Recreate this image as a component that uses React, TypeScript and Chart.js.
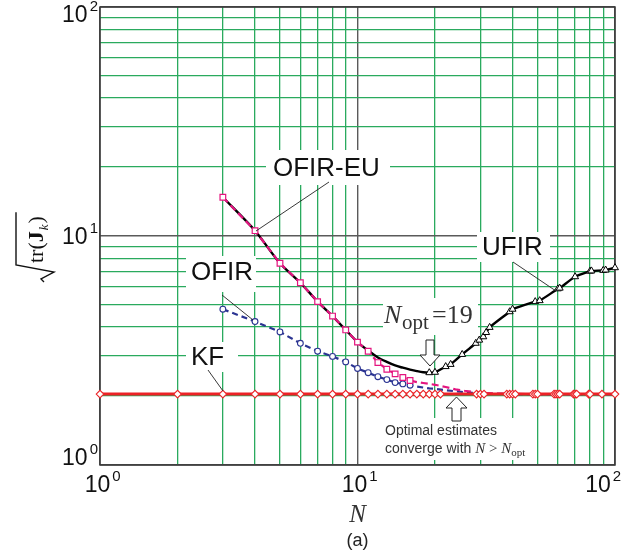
import React, { useEffect, useRef } from "react";
import { Chart, registerables } from "chart.js";

Chart.register(...registerables);

// ---- grid / tick values ----
const gridValues = [1, 2, 3, 4, 5, 6, 7, 8, 9, 10, 20, 30, 40, 50, 60, 70, 80, 90, 100];
const majorValues = [1, 10, 100];
const tickExponents = ["0", "1", "2"];

// ---- KF ----
const kfN = [1, 2, 3, 4, 5, 6, 7, 8, 9, 10, 11, 12, 13, 14, 15, 16, 17, 18, 19, 20, 21, 29, 30, 31, 38, 39, 40, 41, 48, 49, 50, 58, 59, 60, 61, 69, 70, 71, 79, 80, 89, 100];
const kfValues = [2.04, 2.04, 2.04, 2.04, 2.04, 2.04, 2.04, 2.04, 2.04, 2.04, 2.04, 2.04, 2.04, 2.04, 2.04, 2.04, 2.04, 2.04, 2.04, 2.04, 2.04, 2.04, 2.04, 2.04, 2.04, 2.04, 2.04, 2.04, 2.04, 2.04, 2.04, 2.04, 2.04, 2.04, 2.04, 2.04, 2.04, 2.04, 2.04, 2.04, 2.04, 2.04];

// ---- OFIR-EU ----
const ofirEuN = [3, 4, 5, 6, 7, 8, 9, 10, 11, 12, 13, 14, 15, 16, 17, 18, 19, 20, 22, 24, 26, 29, 31, 35, 40, 50, 60, 70, 80, 100];
const ofirEuValues = [14.76, 10.55, 7.6, 6.25, 5.17, 4.47, 3.89, 3.44, 3.14, 2.8, 2.62, 2.5, 2.41, 2.34, 2.3, 2.28, 2.26, 2.24, 2.19, 2.14, 2.11, 2.08, 2.06, 2.05, 2.045, 2.04, 2.04, 2.04, 2.04, 2.04];

// ---- OFIR ----
const ofirN = [3, 4, 5, 6, 7, 8, 9, 10, 11, 12, 13, 14, 15, 16, 17, 18, 19, 20, 22, 24, 26, 29, 31, 35, 40, 50, 60, 70, 80, 100];
const ofirValues = [4.79, 4.23, 3.81, 3.4, 3.14, 2.98, 2.82, 2.64, 2.53, 2.43, 2.36, 2.29, 2.26, 2.23, 2.2, 2.18, 2.16, 2.15, 2.12, 2.1, 2.08, 2.06, 2.05, 2.045, 2.04, 2.04, 2.04, 2.04, 2.04, 2.04];

// ---- UFIR ----
const ufirN = [3, 4, 5, 6, 7, 8, 9, 10, 11, 12, 13, 14, 15, 16, 17, 18, 19, 20, 22, 23, 25.5, 28.8, 29.7, 30.8, 31.6, 32.6, 39, 40, 49, 51, 60, 61, 70, 80, 81, 90, 92, 100];
const ufirValues = [14.76, 10.55, 7.6, 6.25, 5.17, 4.47, 3.89, 3.44, 3.16, 2.95, 2.82, 2.72, 2.66, 2.61, 2.57, 2.54, 2.53, 2.54, 2.69, 2.75, 3.04, 3.4, 3.51, 3.63, 3.79, 3.99, 4.67, 4.79, 5.17, 5.22, 5.88, 5.92, 6.64, 7.02, 7.04, 7.08, 7.1, 7.27];

const RED = "#ec2226";
const MAGENTA = "#e4147f";
const BLUE = "#2b3492";
const GREEN = "#2aaa5e";
const MAJOR = "#5a5a5a";

const SANS = "'Liberation Sans', Arial, sans-serif";
const SERIF = "'Liberation Serif', 'Times New Roman', serif";

const toPoints = (xs: number[], ys: number[]) => xs.map((x, i) => ({ x, y: ys[i] }));

const decorPlugin = {
  id: "decor",
  beforeDatasetsDraw(chart: any) {
    const ctx = chart.ctx as CanvasRenderingContext2D;
    const ca = chart.chartArea;
    ctx.save();
    // white boxes behind labels
    ctx.fillStyle = "#ffffff";
    const boxes = [
      [266, 150, 124, 35],
      [186, 256, 70, 36],
      [186, 342, 52, 30],
      [477, 232, 73, 30],
      [383, 298, 95, 37],
      [380, 418, 155, 42],
    ];
    boxes.forEach(([x, y, w, h]) => ctx.fillRect(x, y, w, h));
    // frame
    ctx.strokeStyle = "#3a3a3a";
    ctx.lineWidth = 1.5;
    ctx.strokeRect(ca.left, ca.top, ca.right - ca.left, ca.bottom - ca.top);
    ctx.restore();
  },
  afterDatasetsDraw(chart: any) {
    const ctx = chart.ctx as CanvasRenderingContext2D;
    ctx.save();
    ctx.fillStyle = "#111";
    ctx.textBaseline = "alphabetic";
    ctx.textAlign = "left";
    ctx.font = `26px ${SANS}`;
    ctx.fillText("OFIR-EU", 273, 176);
    ctx.fillText("OFIR", 191, 280);
    ctx.fillText("KF", 191, 365);
    ctx.fillText("UFIR", 482, 255);

    // leader lines
    ctx.strokeStyle = "#222";
    ctx.lineWidth = 0.9;
    const leaders = [
      [329, 182, 256, 231],
      [222, 295, 253, 320],
      [208, 370, 223, 391],
      [513, 262, 556, 291],
    ];
    leaders.forEach(([a, b, c, d]) => {
      ctx.beginPath();
      ctx.moveTo(a, b);
      ctx.lineTo(c, d);
      ctx.stroke();
    });

    // N_opt = 19
    ctx.fillStyle = "#333";
    ctx.font = `italic 26px ${SERIF}`;
    ctx.fillText("N", 384, 323);
    ctx.font = `21px ${SERIF}`;
    ctx.fillText("opt", 402, 329);
    ctx.font = `26px ${SERIF}`;
    ctx.fillText("=19", 432, 323);

    // arrows
    ctx.fillStyle = "#fff";
    ctx.strokeStyle = "#222";
    ctx.lineWidth = 1;
    ctx.beginPath();
    ctx.moveTo(426, 340);
    ctx.lineTo(434, 340);
    ctx.lineTo(434, 355);
    ctx.lineTo(440, 355);
    ctx.lineTo(430, 366);
    ctx.lineTo(420, 355);
    ctx.lineTo(426, 355);
    ctx.closePath();
    ctx.fill();
    ctx.stroke();

    ctx.beginPath();
    ctx.moveTo(456.5, 397);
    ctx.lineTo(467, 408);
    ctx.lineTo(461, 408);
    ctx.lineTo(461, 421);
    ctx.lineTo(452, 421);
    ctx.lineTo(452, 408);
    ctx.lineTo(446, 408);
    ctx.closePath();
    ctx.fill();
    ctx.stroke();

    // Optimal estimates text
    ctx.fillStyle = "#333";
    ctx.font = `14px ${SANS}`;
    ctx.fillText("Optimal estimates", 385, 435);
    ctx.fillText("converge with ", 385, 453);
    let x = 385 + ctx.measureText("converge with ").width;
    ctx.font = `italic 15px ${SERIF}`;
    ctx.fillText("N", x, 453);
    x += ctx.measureText("N").width;
    ctx.font = `15px ${SERIF}`;
    ctx.fillText(" > ", x, 453);
    x += ctx.measureText(" > ").width;
    ctx.font = `italic 15px ${SERIF}`;
    ctx.fillText("N", x, 453);
    x += ctx.measureText("N").width;
    ctx.font = `11px ${SERIF}`;
    ctx.fillText("opt", x, 456);
    ctx.restore();
  },
  afterDraw(chart: any) {
    const ctx = chart.ctx as CanvasRenderingContext2D;
    const xs = chart.scales.x;
    const ys = chart.scales.y;
    const ca = chart.chartArea;
    ctx.save();
    ctx.fillStyle = "#111";
    ctx.textBaseline = "alphabetic";

    // y tick labels
    const yBaseOffsets = [0, 7.5, 15];
    majorValues.forEach((v, i) => {
      const py = ys.getPixelForValue(v) + yBaseOffsets[i];
      ctx.font = `15px ${SANS}`;
      ctx.textAlign = "right";
      ctx.fillText(tickExponents[i], ca.left - 2, py - 11);
      const ew = ctx.measureText(tickExponents[i]).width;
      ctx.font = `23px ${SANS}`;
      ctx.fillText("10", ca.left - 2 - ew - 2, py);
    });

    // x tick labels
    const xCenterOffsets = [-2.5, -3, -17];
    majorValues.forEach((v, i) => {
      const px = xs.getPixelForValue(v) + xCenterOffsets[i];
      ctx.font = `23px ${SANS}`;
      ctx.textAlign = "center";
      ctx.fillText("10", px, 492);
      const w = ctx.measureText("10").width;
      ctx.font = `15px ${SANS}`;
      ctx.textAlign = "left";
      ctx.fillText(tickExponents[i], px + w / 2 + 2, 481);
    });

    // x axis title
    ctx.textAlign = "center";
    ctx.font = `italic 25px ${SERIF}`;
    ctx.fillStyle = "#333";
    ctx.fillText("N", (ca.left + ca.right) / 2, 522);
    ctx.font = `18px ${SANS}`;
    ctx.fillStyle = "#222";
    ctx.fillText("(a)", (ca.left + ca.right) / 2, 546);

    // y axis title sqrt(tr(J_k))
    ctx.translate(43, 270);
    ctx.rotate(-Math.PI / 2);
    ctx.textAlign = "left";
    ctx.fillStyle = "#111";
    let x = 7;
    ctx.font = `22px ${SERIF}`;
    ctx.fillText("tr(", x, 0);
    x += ctx.measureText("tr(").width;
    ctx.font = `bold 22px ${SERIF}`;
    ctx.fillText("J", x, 0);
    x += ctx.measureText("J").width;
    ctx.font = `italic 13px ${SERIF}`;
    ctx.fillText("k", x + 1, 5);
    x += ctx.measureText("k").width + 2;
    ctx.font = `22px ${SERIF}`;
    ctx.fillText(")", x, 0);
    x += ctx.measureText(")").width;
    ctx.strokeStyle = "#111";
    ctx.lineWidth = 1.4;
    ctx.beginPath();
    ctx.moveTo(-12, 1);
    ctx.lineTo(-9, -2);
    ctx.lineTo(-2, 11);
    ctx.lineTo(5, -27);
    ctx.lineTo(x + 4, -27);
    ctx.stroke();
    ctx.restore();
  },
};

export default function App() {
  const ref = useRef<HTMLCanvasElement>(null);
  useEffect(() => {
    const gridColor = (c: any) => (majorValues.includes(c.tick?.value) ? MAJOR : GREEN);
    const gridWidth = (c: any) => (majorValues.includes(c.tick?.value) ? 1.4 : 1.3);
    const setTicks = (s: any) => {
      s.ticks = gridValues.map((v) => ({ value: v, major: majorValues.includes(v) }));
    };
    const chart = new Chart(ref.current as HTMLCanvasElement, {
      type: "scatter",
      data: {
        datasets: [
          {
            label: "KF",
            data: toPoints(kfN, kfValues),
            showLine: true,
            borderColor: RED,
            borderWidth: 3,
            pointStyle: "rectRot",
            pointRadius: 3.8,
            pointBackgroundColor: "#fff",
            pointBorderColor: RED,
            pointBorderWidth: 1.1,
            clip: false,
          } as any,
          {
            label: "OFIR-EU",
            data: toPoints(ofirEuN, ofirEuValues),
            showLine: true,
            borderColor: MAGENTA,
            borderWidth: 2.2,
            borderDash: [7, 4],
            pointStyle: "rect",
            pointRadius: ofirEuN.map((n) => (n <= 16 ? 4 : 0)),
            pointBackgroundColor: "#fff",
            pointBorderColor: MAGENTA,
            pointBorderWidth: 1.2,
            clip: false,
          } as any,
          {
            label: "OFIR",
            data: toPoints(ofirN, ofirValues),
            showLine: true,
            borderColor: BLUE,
            borderWidth: 2.2,
            borderDash: [6, 4],
            pointStyle: "circle",
            pointRadius: ofirN.map((n) => (n <= 16 ? 2.9 : 0)),
            pointBackgroundColor: "#fff",
            pointBorderColor: BLUE,
            pointBorderWidth: 1.1,
            clip: false,
          } as any,
          {
            label: "UFIR",
            data: toPoints(ufirN, ufirValues),
            showLine: true,
            borderColor: "#000",
            borderWidth: 2.4,
            tension: 0.3,
            pointStyle: "triangle",
            pointRadius: ufirN.map((n) => (n >= 19 ? 4 : 0)),
            pointBackgroundColor: "#fff",
            pointBorderColor: "#000",
            pointBorderWidth: 1,
            clip: false,
          } as any,
        ],
      },
      options: {
        responsive: false,
        animation: false,
        events: [],
        layout: { padding: { left: 100, top: 7, right: 27, bottom: 94 } },
        plugins: { legend: { display: false }, tooltip: { enabled: false } },
        scales: {
          x: {
            type: "logarithmic",
            min: 1,
            max: 100,
            afterBuildTicks: setTicks,
            ticks: { display: false },
            grid: { color: gridColor, lineWidth: gridWidth, drawTicks: false },
            border: { display: false },
          },
          y: {
            type: "logarithmic",
            min: 1,
            max: 100,
            afterBuildTicks: setTicks,
            ticks: { display: false },
            grid: { color: gridColor, lineWidth: gridWidth, drawTicks: false },
            border: { display: false },
          },
        },
      } as any,
      plugins: [decorPlugin],
    });
    return () => chart.destroy();
  }, []);
  return (
    <div style={{ position: "absolute", left: 0, top: 0, width: 642, height: 559, background: "#fff" }}>
      <canvas ref={ref} width={642} height={559} />
    </div>
  );
}
